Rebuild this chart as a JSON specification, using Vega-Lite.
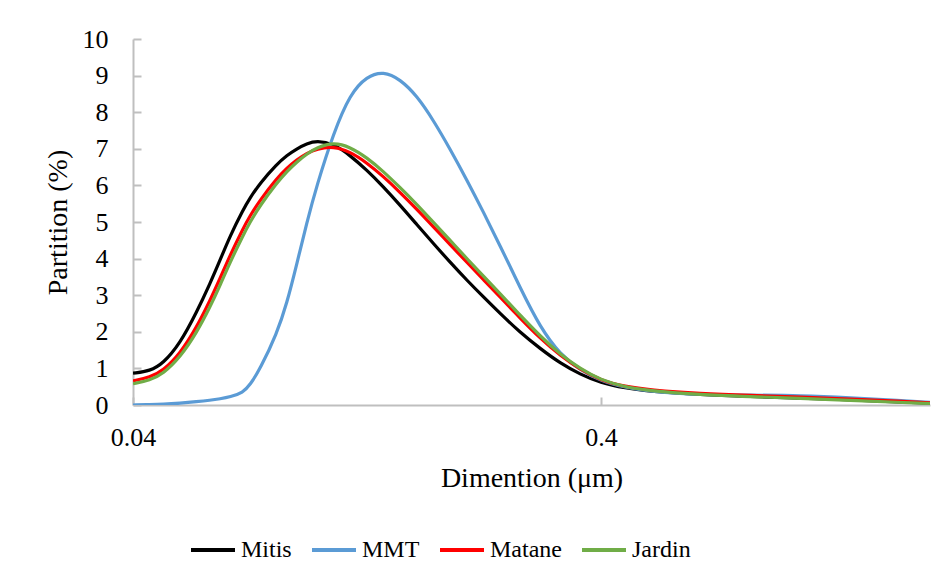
{
  "$schema": "https://vega.github.io/schema/vega-lite/v6.json",
  "width": 797,
  "height": 366,
  "autosize": {"type": "none"},
  "padding": {"left": 133, "top": 39, "right": 21, "bottom": 181},
  "background": "white",
  "data": {
    "values": [
      {"d": 0.04, "p": 0.87, "s": "Mitis"},
      {"d": 0.0435, "p": 0.93, "s": "Mitis"},
      {"d": 0.04636, "p": 1.13, "s": "Mitis"},
      {"d": 0.05042, "p": 1.68, "s": "Mitis"},
      {"d": 0.05474, "p": 2.54, "s": "Mitis"},
      {"d": 0.05845, "p": 3.32, "s": "Mitis"},
      {"d": 0.0614, "p": 3.96, "s": "Mitis"},
      {"d": 0.0645, "p": 4.62, "s": "Mitis"},
      {"d": 0.06873, "p": 5.33, "s": "Mitis"},
      {"d": 0.07116, "p": 5.66, "s": "Mitis"},
      {"d": 0.07474, "p": 6.06, "s": "Mitis"},
      {"d": 0.08117, "p": 6.58, "s": "Mitis"},
      {"d": 0.08527, "p": 6.82, "s": "Mitis"},
      {"d": 0.08955, "p": 7.0, "s": "Mitis"},
      {"d": 0.09407, "p": 7.14, "s": "Mitis"},
      {"d": 0.09882, "p": 7.22, "s": "Mitis"},
      {"d": 0.1073, "p": 7.14, "s": "Mitis"},
      {"d": 0.1164, "p": 6.82, "s": "Mitis"},
      {"d": 0.1264, "p": 6.42, "s": "Mitis"},
      {"d": 0.1372, "p": 5.96, "s": "Mitis"},
      {"d": 0.1489, "p": 5.46, "s": "Mitis"},
      {"d": 0.1617, "p": 4.93, "s": "Mitis"},
      {"d": 0.1754, "p": 4.41, "s": "Mitis"},
      {"d": 0.1905, "p": 3.9, "s": "Mitis"},
      {"d": 0.2068, "p": 3.41, "s": "Mitis"},
      {"d": 0.2244, "p": 2.95, "s": "Mitis"},
      {"d": 0.2436, "p": 2.5, "s": "Mitis"},
      {"d": 0.2689, "p": 1.98, "s": "Mitis"},
      {"d": 0.2967, "p": 1.54, "s": "Mitis"},
      {"d": 0.3274, "p": 1.14, "s": "Mitis"},
      {"d": 0.3612, "p": 0.84, "s": "Mitis"},
      {"d": 0.3986, "p": 0.61, "s": "Mitis"},
      {"d": 0.4509, "p": 0.46, "s": "Mitis"},
      {"d": 0.5098, "p": 0.37, "s": "Mitis"},
      {"d": 0.6525, "p": 0.28, "s": "Mitis"},
      {"d": 0.8343, "p": 0.23, "s": "Mitis"},
      {"d": 1.067, "p": 0.19, "s": "Mitis"},
      {"d": 1.365, "p": 0.14, "s": "Mitis"},
      {"d": 1.746, "p": 0.08, "s": "Mitis"},
      {"d": 2.02, "p": 0.05, "s": "Mitis"},

      {"d": 0.04, "p": 0.0, "s": "MMT"},
      {"d": 0.0435, "p": 0.01, "s": "MMT"},
      {"d": 0.04636, "p": 0.02, "s": "MMT"},
      {"d": 0.05042, "p": 0.05, "s": "MMT"},
      {"d": 0.05474, "p": 0.09, "s": "MMT"},
      {"d": 0.05845, "p": 0.13, "s": "MMT"},
      {"d": 0.0614, "p": 0.17, "s": "MMT"},
      {"d": 0.0645, "p": 0.22, "s": "MMT"},
      {"d": 0.06873, "p": 0.34, "s": "MMT"},
      {"d": 0.07116, "p": 0.55, "s": "MMT"},
      {"d": 0.07474, "p": 0.98, "s": "MMT"},
      {"d": 0.08117, "p": 1.95, "s": "MMT"},
      {"d": 0.08527, "p": 2.77, "s": "MMT"},
      {"d": 0.08955, "p": 3.85, "s": "MMT"},
      {"d": 0.09407, "p": 4.98, "s": "MMT"},
      {"d": 0.09882, "p": 6.0, "s": "MMT"},
      {"d": 0.1073, "p": 7.43, "s": "MMT"},
      {"d": 0.1164, "p": 8.5, "s": "MMT"},
      {"d": 0.1264, "p": 8.98, "s": "MMT"},
      {"d": 0.1372, "p": 9.12, "s": "MMT"},
      {"d": 0.1489, "p": 8.9, "s": "MMT"},
      {"d": 0.1617, "p": 8.45, "s": "MMT"},
      {"d": 0.1754, "p": 7.78, "s": "MMT"},
      {"d": 0.1905, "p": 6.99, "s": "MMT"},
      {"d": 0.2068, "p": 6.15, "s": "MMT"},
      {"d": 0.2244, "p": 5.27, "s": "MMT"},
      {"d": 0.2436, "p": 4.35, "s": "MMT"},
      {"d": 0.2689, "p": 3.2, "s": "MMT"},
      {"d": 0.2967, "p": 2.12, "s": "MMT"},
      {"d": 0.3274, "p": 1.38, "s": "MMT"},
      {"d": 0.3612, "p": 0.96, "s": "MMT"},
      {"d": 0.3986, "p": 0.66, "s": "MMT"},
      {"d": 0.4509, "p": 0.48, "s": "MMT"},
      {"d": 0.5098, "p": 0.37, "s": "MMT"},
      {"d": 0.6525, "p": 0.28, "s": "MMT"},
      {"d": 0.8343, "p": 0.27, "s": "MMT"},
      {"d": 1.067, "p": 0.26, "s": "MMT"},
      {"d": 1.365, "p": 0.2, "s": "MMT"},
      {"d": 1.746, "p": 0.12, "s": "MMT"},
      {"d": 2.02, "p": 0.07, "s": "MMT"},

      {"d": 0.04, "p": 0.66, "s": "Matane"},
      {"d": 0.0435, "p": 0.76, "s": "Matane"},
      {"d": 0.04636, "p": 0.94, "s": "Matane"},
      {"d": 0.05042, "p": 1.4, "s": "Matane"},
      {"d": 0.05474, "p": 2.13, "s": "Matane"},
      {"d": 0.05845, "p": 2.86, "s": "Matane"},
      {"d": 0.0614, "p": 3.46, "s": "Matane"},
      {"d": 0.0645, "p": 4.09, "s": "Matane"},
      {"d": 0.06873, "p": 4.82, "s": "Matane"},
      {"d": 0.07116, "p": 5.17, "s": "Matane"},
      {"d": 0.07474, "p": 5.6, "s": "Matane"},
      {"d": 0.08117, "p": 6.19, "s": "Matane"},
      {"d": 0.08527, "p": 6.47, "s": "Matane"},
      {"d": 0.08955, "p": 6.7, "s": "Matane"},
      {"d": 0.09407, "p": 6.88, "s": "Matane"},
      {"d": 0.09882, "p": 7.0, "s": "Matane"},
      {"d": 0.1073, "p": 7.07, "s": "Matane"},
      {"d": 0.1164, "p": 6.92, "s": "Matane"},
      {"d": 0.1264, "p": 6.62, "s": "Matane"},
      {"d": 0.1372, "p": 6.24, "s": "Matane"},
      {"d": 0.1489, "p": 5.81, "s": "Matane"},
      {"d": 0.1617, "p": 5.35, "s": "Matane"},
      {"d": 0.1754, "p": 4.87, "s": "Matane"},
      {"d": 0.1905, "p": 4.38, "s": "Matane"},
      {"d": 0.2068, "p": 3.9, "s": "Matane"},
      {"d": 0.2244, "p": 3.42, "s": "Matane"},
      {"d": 0.2436, "p": 2.95, "s": "Matane"},
      {"d": 0.2689, "p": 2.37, "s": "Matane"},
      {"d": 0.2967, "p": 1.82, "s": "Matane"},
      {"d": 0.3274, "p": 1.35, "s": "Matane"},
      {"d": 0.3612, "p": 0.97, "s": "Matane"},
      {"d": 0.3986, "p": 0.68, "s": "Matane"},
      {"d": 0.4509, "p": 0.5, "s": "Matane"},
      {"d": 0.5098, "p": 0.41, "s": "Matane"},
      {"d": 0.6525, "p": 0.31, "s": "Matane"},
      {"d": 0.8343, "p": 0.26, "s": "Matane"},
      {"d": 1.067, "p": 0.22, "s": "Matane"},
      {"d": 1.365, "p": 0.16, "s": "Matane"},
      {"d": 1.746, "p": 0.1, "s": "Matane"},
      {"d": 2.02, "p": 0.06, "s": "Matane"},

      {"d": 0.04, "p": 0.58, "s": "Jardin"},
      {"d": 0.0435, "p": 0.68, "s": "Jardin"},
      {"d": 0.04636, "p": 0.85, "s": "Jardin"},
      {"d": 0.05042, "p": 1.3, "s": "Jardin"},
      {"d": 0.05474, "p": 1.98, "s": "Jardin"},
      {"d": 0.05845, "p": 2.68, "s": "Jardin"},
      {"d": 0.0614, "p": 3.27, "s": "Jardin"},
      {"d": 0.0645, "p": 3.9, "s": "Jardin"},
      {"d": 0.06873, "p": 4.63, "s": "Jardin"},
      {"d": 0.07116, "p": 5.0, "s": "Jardin"},
      {"d": 0.07474, "p": 5.45, "s": "Jardin"},
      {"d": 0.08117, "p": 6.07, "s": "Jardin"},
      {"d": 0.08527, "p": 6.38, "s": "Jardin"},
      {"d": 0.08955, "p": 6.64, "s": "Jardin"},
      {"d": 0.09407, "p": 6.86, "s": "Jardin"},
      {"d": 0.09882, "p": 7.03, "s": "Jardin"},
      {"d": 0.1073, "p": 7.18, "s": "Jardin"},
      {"d": 0.1164, "p": 7.05, "s": "Jardin"},
      {"d": 0.1264, "p": 6.76, "s": "Jardin"},
      {"d": 0.1372, "p": 6.38, "s": "Jardin"},
      {"d": 0.1489, "p": 5.94, "s": "Jardin"},
      {"d": 0.1617, "p": 5.48, "s": "Jardin"},
      {"d": 0.1754, "p": 4.99, "s": "Jardin"},
      {"d": 0.1905, "p": 4.5, "s": "Jardin"},
      {"d": 0.2068, "p": 4.0, "s": "Jardin"},
      {"d": 0.2244, "p": 3.52, "s": "Jardin"},
      {"d": 0.2436, "p": 3.04, "s": "Jardin"},
      {"d": 0.2689, "p": 2.45, "s": "Jardin"},
      {"d": 0.2967, "p": 1.88, "s": "Jardin"},
      {"d": 0.3274, "p": 1.38, "s": "Jardin"},
      {"d": 0.3612, "p": 0.99, "s": "Jardin"},
      {"d": 0.3986, "p": 0.69, "s": "Jardin"},
      {"d": 0.4509, "p": 0.49, "s": "Jardin"},
      {"d": 0.5098, "p": 0.39, "s": "Jardin"},
      {"d": 0.6525, "p": 0.28, "s": "Jardin"},
      {"d": 0.8343, "p": 0.23, "s": "Jardin"},
      {"d": 1.067, "p": 0.18, "s": "Jardin"},
      {"d": 1.365, "p": 0.13, "s": "Jardin"},
      {"d": 1.746, "p": 0.07, "s": "Jardin"},
      {"d": 2.02, "p": 0.04, "s": "Jardin"}
    ]
  },
  "mark": {"type": "line", "interpolate": "basis", "strokeWidth": 3.2, "clip": true},
  "encoding": {
    "x": {
      "field": "d",
      "type": "quantitative",
      "scale": {"type": "log", "domain": [0.04, 2.02], "nice": false},
      "axis": {
        "title": "Dimention (μm)",
        "values": [0.04, 0.4],
        "format": "~g",
        "labelFlush": false,
        "tickSize": -8,
        "labelPadding": 27,
        "titleY": 73,
        "titleBaseline": "middle"
      }
    },
    "y": {
      "field": "p",
      "type": "quantitative",
      "scale": {"domain": [0, 10], "nice": false},
      "axis": {
        "title": "Partition (%)",
        "values": [0, 1, 2, 3, 4, 5, 6, 7, 8, 9, 10],
        "tickSize": -8,
        "labelPadding": 33,
        "titleX": -75,
        "titleY": 183,
        "titleAngle": -90,
        "titleAlign": "center",
        "titleBaseline": "middle"
      }
    },
    "color": {
      "field": "s",
      "type": "nominal",
      "sort": ["Mitis", "MMT", "Matane", "Jardin"],
      "scale": {
        "domain": ["Mitis", "MMT", "Matane", "Jardin"],
        "range": ["#000000", "#5B9BD5", "#FF0000", "#70AD47"]
      },
      "legend": {
        "title": null,
        "orient": "none",
        "direction": "horizontal",
        "legendX": 56,
        "legendY": 487,
        "symbolType": "stroke",
        "symbolSize": 1936,
        "symbolStrokeWidth": 4,
        "labelOffset": 4,
        "columnPadding": 12
      }
    }
  },
  "config": {
    "view": {"stroke": null},
    "font": "'Liberation Serif', 'Times New Roman', serif",
    "axis": {
      "grid": false,
      "domainColor": "#BFBFBF",
      "domainWidth": 2,
      "tickColor": "#BFBFBF",
      "tickWidth": 2,
      "labelFont": "'Liberation Serif', 'Times New Roman', serif",
      "labelFontSize": 26,
      "labelColor": "#000000",
      "titleFont": "'Liberation Serif', 'Times New Roman', serif",
      "titleFontSize": 28,
      "titleFontWeight": "normal",
      "titleColor": "#000000"
    },
    "legend": {
      "labelFont": "'Liberation Serif', 'Times New Roman', serif",
      "labelFontSize": 24,
      "labelColor": "#000000"
    }
  }
}
